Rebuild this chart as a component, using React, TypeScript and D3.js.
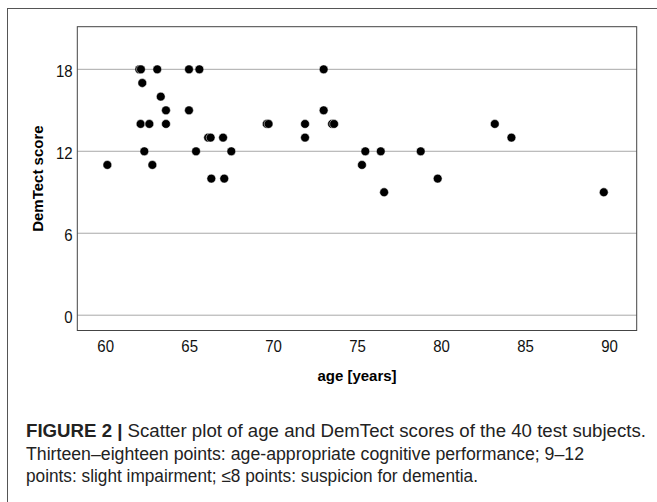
import * as d3 from "d3";

// DemTect score by age
const ages = [
  62.0, 62.1, 63.07, 64.96, 65.58, 72.98, 62.18, 63.28, 63.59, 64.96, 72.98,
  62.08, 62.6, 63.59, 69.59, 69.7, 71.87, 73.48, 73.6, 83.17, 66.1, 66.25,
  66.99, 71.87, 84.16, 62.3, 65.38, 67.48, 75.46, 76.38, 78.76, 60.1, 62.78,
  75.26, 66.29, 67.06, 79.77, 76.58, 89.66,
];
const scores = [
  18, 18, 18, 18, 18, 18, 17, 16, 15, 15, 15, 14, 14, 14, 14, 14, 14, 14, 14,
  14, 13, 13, 13, 13, 13, 12, 12, 12, 12, 12, 12, 11, 11, 11, 10, 10, 10, 9, 9,
];
const xTicks = [60, 65, 70, 75, 80, 85, 90];
const yTicks = [0, 6, 12, 18];
const captionLines = [
  "Scatter plot of age and DemTect scores of the 40 test subjects.",
  "Thirteen–eighteen points: age-appropriate cognitive performance; 9–12",
  "points: slight impairment; ≤8 points: suspicion for dementia.",
];

const W = 657;
const H = 502;
const BOX = { left: 77.3, right: 636.7, top: 26.7, bottom: 330.5 };
const FONT = "'Liberation Sans', Arial, Helvetica, sans-serif";

export default function App() {
  const x = d3.scaleLinear().domain([58.31, 91.62]).range([BOX.left, BOX.right]);
  const y = d3.scaleLinear().domain([-1.12, 21.12]).range([BOX.bottom, BOX.top]);

  const points = ages.map((a, i) => ({ age: a, score: scores[i] }));

  // tick digits in the figure are a little narrow for their height
  const digitW = 8.35;

  return (
    <svg
      width={W}
      height={H}
      style={{ position: "absolute", left: 0, top: 0, background: "#fff" }}
      fontFamily={FONT}
    >
      {/* outer figure frame, runs off the right and bottom */}
      <rect x={7.5} y={8.5} width={W} height={H} fill="none" stroke="#555" strokeWidth={1} />

      {/* gridlines */}
      {yTicks.map((t) => (
        <line
          key={"g" + t}
          x1={BOX.left}
          x2={BOX.right}
          y1={y(t)}
          y2={y(t)}
          stroke="#a8a8a8"
          strokeWidth={1}
        />
      ))}

      <rect
        x={BOX.left}
        y={BOX.top}
        width={BOX.right - BOX.left}
        height={BOX.bottom - BOX.top}
        fill="none"
        stroke="#444"
        strokeWidth={1}
      />

      {/* y tick labels */}
      {yTicks.map((t) => (
        <text
          key={"y" + t}
          x={72.7}
          y={y(t) + 7.4}
          textAnchor="end"
          fontSize={16.3}
          fill="#111"
          textLength={String(t).length * digitW}
          lengthAdjust="spacingAndGlyphs"
        >
          {t}
        </text>
      ))}

      {/* x tick labels */}
      {xTicks.map((t) => (
        <text
          key={"x" + t}
          x={x(t)}
          y={351.7}
          textAnchor="middle"
          fontSize={16.3}
          fill="#111"
          textLength={String(t).length * digitW}
          lengthAdjust="spacingAndGlyphs"
        >
          {t}
        </text>
      ))}

      <text x={(BOX.left + BOX.right) / 2} y={381} textAnchor="middle" fontSize={15} fontWeight="bold">
        age [years]
      </text>
      <text
        transform={`translate(43.3, ${(BOX.top + BOX.bottom) / 2}) rotate(-90)`}
        textAnchor="middle"
        fontSize={15}
        fontWeight="bold"
      >
        DemTect score
      </text>

      {points.map((p, i) => (
        <circle
          key={i}
          cx={x(p.age)}
          cy={y(p.score)}
          r={4.4}
          fill="#000"
          stroke="#fff"
          strokeWidth={0.5}
        />
      ))}

      {/* caption */}
      <text x={26} y={436.7} fontSize={17.5} fill="#222" textLength={620} lengthAdjust="spacingAndGlyphs">
        <tspan fontWeight="bold">FIGURE 2 | </tspan>
        <tspan>{captionLines[0]}</tspan>
      </text>
      <text x={26} y={459.5} fontSize={17.5} fill="#222" textLength={558} lengthAdjust="spacingAndGlyphs">
        {captionLines[1]}
      </text>
      <text x={26} y={482} fontSize={17.5} fill="#222" textLength={452} lengthAdjust="spacingAndGlyphs">
        {captionLines[2]}
      </text>
    </svg>
  );
}
